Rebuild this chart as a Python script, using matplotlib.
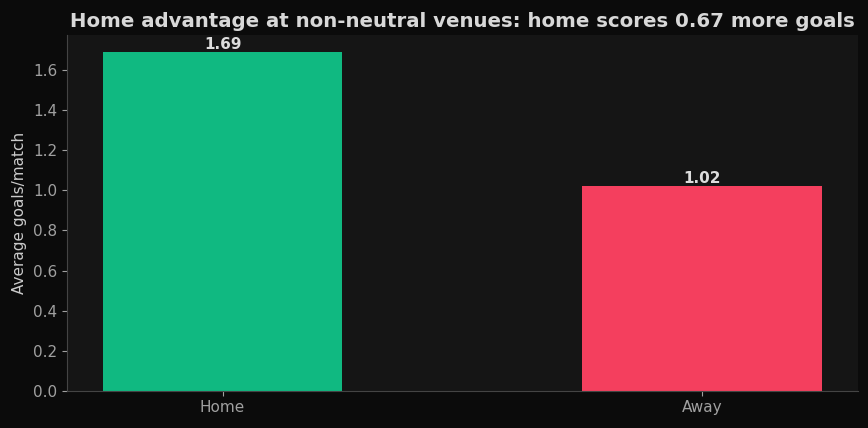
import matplotlib
matplotlib.use('Agg')
import matplotlib.pyplot as plt

# data
venues = ['Home', 'Away']
avg_goals = [1.69, 1.02]
bar_colors = ['#10b981', '#f43f5e']

fig, ax = plt.subplots(figsize=(8.68, 4.28), dpi=100)
fig.patch.set_facecolor('#0b0b0b')
ax.set_facecolor('#151515')

bars = ax.bar(venues, avg_goals, width=0.5, color=bar_colors)
for b, v in zip(bars, avg_goals):
    ax.text(b.get_x() + b.get_width() / 2, v, f'{v:.2f}', ha='center', va='bottom',
            color='#dddddd', fontsize=11, fontweight='bold')

ax.set_title('Home advantage at non-neutral venues: home scores 0.67 more goals',
             color='#d8d8d8', fontsize=14.25, fontweight='bold')
ax.set_ylabel('Average goals/match', color='#cccccc', fontsize=11)

for s in ['top', 'right']:
    ax.spines[s].set_visible(False)
for s in ['left', 'bottom']:
    ax.spines[s].set_color('#444444')
ax.tick_params(colors='#a0a0a0', labelsize=11)

fig.subplots_adjust(left=0.077, right=0.988, top=0.918, bottom=0.087)
fig.savefig('out.png', dpi=100, facecolor=fig.get_facecolor())
